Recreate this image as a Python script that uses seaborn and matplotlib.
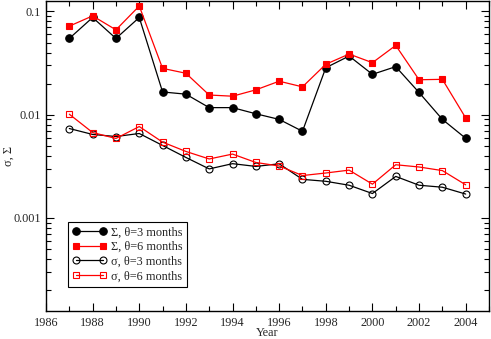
import numpy as np
import pandas as pd
import matplotlib
matplotlib.use("Agg")
import matplotlib.pyplot as plt
import seaborn as sns
from matplotlib.ticker import MultipleLocator, LogLocator, FixedLocator, FixedFormatter, NullFormatter
from matplotlib.lines import Line2D

years = list(range(1987, 2005))
Sigma_3 = [0.0548, 0.0875, 0.0548, 0.0875, 0.0166, 0.0158, 0.0117, 0.0117, 0.0102,
           0.0090, 0.0069, 0.0285, 0.0370, 0.0246, 0.0292, 0.0164, 0.0090, 0.0059]
Sigma_6 = [0.0721, 0.0907, 0.0664, 0.113, 0.0281, 0.0252, 0.0155, 0.0151, 0.0174,
           0.0211, 0.0186, 0.0308, 0.0387, 0.0319, 0.0469, 0.0218, 0.0220, 0.0093]
sigma_3 = [0.00734, 0.00643, 0.00614, 0.00657, 0.00503, 0.00385, 0.00298, 0.00335, 0.00315,
           0.00334, 0.00236, 0.00226, 0.00207, 0.00172, 0.00252, 0.00207, 0.00198, 0.00170]
sigma_6 = [0.0101, 0.00671, 0.00588, 0.00767, 0.00542, 0.00440, 0.00372, 0.00415, 0.00344,
           0.00318, 0.00257, 0.00272, 0.00290, 0.00212, 0.00327, 0.00311, 0.00287, 0.00209]
labels = ["Σ, θ=3 months", "Σ, θ=6 months", "σ, θ=3 months", "σ, θ=6 months"]
y_ticks = [0.001, 0.01, 0.1]
y_tick_labels = ["0.001", "0.01", "0.1"]

sns.set_style("ticks")
plt.rcParams["font.family"] = ["Liberation Serif", "DejaVu Serif"]

fig = plt.figure(figsize=(4.91, 3.39), dpi=100)
ax = fig.add_axes([46/491, 1-311/339, (489-46)/491, (311-1.5)/339])

series = [Sigma_3, Sigma_6, sigma_3, sigma_6]
styles = [
    dict(color="black", marker="o", mfc="black", mec="black", ms=5.4),
    dict(color="red", marker="s", mfc="red", mec="red", ms=5.0),
    dict(color="black", marker="o", mfc="none", mec="black", ms=5.0),
    dict(color="red", marker="s", mfc="none", mec="red", ms=5.0),
]
for vals, lab, st in zip(series, labels, styles):
    df = pd.DataFrame({"Year": years, "v": vals})
    sns.lineplot(data=df, x="Year", y="v", ax=ax, color=st["color"], linewidth=0.9,
                 marker=st["marker"], markersize=st["ms"], markerfacecolor=st["mfc"],
                 markeredgecolor=st["mec"], markeredgewidth=0.8, legend=False)

ax.set_yscale("log")
ax.set_xlim(1986, 2005)
ax.set_ylim(1.25e-4, 0.125)
ax.xaxis.set_major_locator(MultipleLocator(2))
ax.xaxis.set_minor_locator(MultipleLocator(1))
ax.yaxis.set_major_locator(FixedLocator(y_ticks))
ax.yaxis.set_major_formatter(FixedFormatter(y_tick_labels))
ax.yaxis.set_minor_locator(LogLocator(base=10, subs=np.arange(2, 10)))
ax.yaxis.set_minor_formatter(NullFormatter())
ax.tick_params(which="both", direction="in", top=True, right=True, labelsize=8.8, width=0.8, color="black")
ax.tick_params(which="major", length=6)
ax.tick_params(which="minor", length=3.5)
ax.tick_params(axis="x", which="major", pad=4)
for sp in ax.spines.values():
    sp.set_linewidth(1.0)
    sp.set_color("black")

ax.set_xlabel("Year", fontsize=8.8, labelpad=-1)
ax.set_ylabel("σ, Σ", fontsize=8.8, labelpad=-1)

handles = [Line2D([0], [0], color=st["color"], lw=0.9, marker=st["marker"], markersize=st["ms"],
                  markerfacecolor=st["mfc"], markeredgecolor=st["mec"], markeredgewidth=0.8)
           for st in styles]
leg = ax.legend(handles, labels, loc="upper left", bbox_to_anchor=(22/443, (311-222)/309.5),
                borderaxespad=0, numpoints=2, handlelength=2.8, handletextpad=0.35,
                labelspacing=0.22, borderpad=0.35, fontsize=8.8, frameon=True, fancybox=False)
leg.get_frame().set_edgecolor("black")
leg.get_frame().set_linewidth(0.8)
leg.get_frame().set_alpha(1)

fig.savefig("out.png", dpi=100)
